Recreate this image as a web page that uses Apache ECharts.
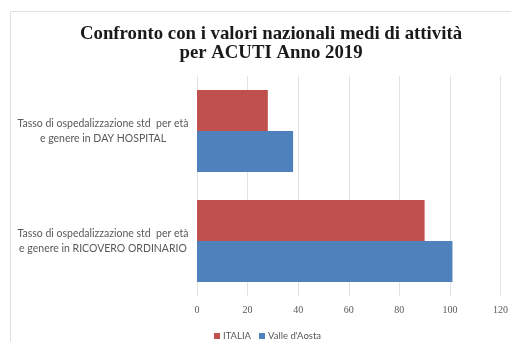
<!DOCTYPE html>
<html>
<head>
<meta charset="utf-8">
<script src="https://cdn.jsdelivr.net/npm/echarts@6/dist/echarts.min.js"></script>
<style>
  html, body { margin: 0; padding: 0; background: #ffffff; }
  #chart { width: 511px; height: 342px; }
</style>
</head>
<body>
<div id="chart"></div>
<script>
// Categories, bottom to top on the category axis
const categories = [
  'Tasso di ospedalizzazione std  per età\ne genere in RICOVERO ORDINARIO',
  'Tasso di ospedalizzazione std  per età\ne genere in DAY HOSPITAL'
];
const seriesNames = ['ITALIA', "Valle d'Aosta"];
const italiaValues = [90, 28];
const valleValues = [101, 38];
const axisTicks = [0, 20, 40, 60, 80, 100, 120];

const chart = echarts.init(document.getElementById('chart'), null, { renderer: 'canvas' });

chart.setOption({
  animation: false,
  backgroundColor: '#ffffff',
  title: {
    text: 'Confronto con i valori nazionali medi di attività\nper ACUTI Anno 2019',
    left: 266,
    textAlign: 'center',
    top: 19,
    textStyle: {
      fontFamily: 'Liberation Serif',
      fontWeight: 'bold',
      fontSize: 18.8,
      lineHeight: 19.5,
      color: '#1a1a1a'
    }
  },
  graphic: [{
    type: 'rect',
    shape: { x: 10.5, y: 11.5, width: 600, height: 400 },
    style: { fill: 'none', stroke: '#e0e0e0', lineWidth: 1 },
    silent: true
  }],
  legend: {
    data: seriesNames,
    left: 209,
    top: 326,
    itemWidth: 6,
    itemHeight: 6,
    itemGap: 8,
    icon: 'rect',
    textStyle: { fontFamily: 'Lato', fontSize: 9.5, color: '#595959', padding: [0, 0, 0, -2] }
  },
  grid: { left: 197, right: 8, top: 76, bottom: 46 },
  xAxis: {
    type: 'value',
    min: axisTicks[0],
    max: axisTicks[axisTicks.length - 1],
    interval: axisTicks[1] - axisTicks[0],
    axisLine: { show: false },
    axisTick: { show: false },
    splitLine: { lineStyle: { color: '#e3e3e3', width: 1 } },
    axisLabel: { fontFamily: 'Liberation Serif', fontSize: 10, color: '#595959', margin: 9 }
  },
  yAxis: {
    type: 'category',
    data: categories,
    axisLine: { show: false },
    axisTick: { show: false },
    axisLabel: {
      fontFamily: 'Lato',
      fontSize: 10.5,
      lineHeight: 15,
      color: '#595959',
      align: 'center',
      margin: 94
    }
  },
  series: [
    {
      name: seriesNames[0],
      type: 'bar',
      data: italiaValues,
      itemStyle: { color: '#C0504D' },
      barGap: '0%',
      barCategoryGap: '25.5%'
    },
    {
      name: seriesNames[1],
      type: 'bar',
      data: valleValues,
      itemStyle: { color: '#4F81BD' },
      barGap: '0%',
      barCategoryGap: '25.5%'
    }
  ]
});
</script>
</body>
</html>
